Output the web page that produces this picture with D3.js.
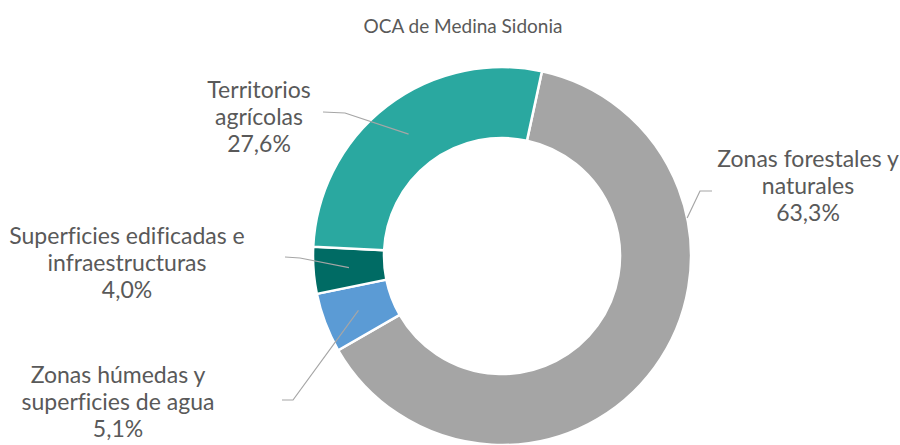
<!DOCTYPE html>
<html>
<head>
<meta charset="utf-8">
<script src="https://cdn.jsdelivr.net/npm/d3@7"></script>
<style>
  body { margin: 0; background: #fff; }
  text { font-family: Lato, "Open Sans", sans-serif; fill: #595959;
         font-variant-ligatures: none; font-feature-settings: "liga" 0; }
</style>
</head>
<body>
<div id="chart"></div>
<script>
// data, in drawing order (clockwise from the first slice)
var categories = ['Zonas forestales y naturales', 'Zonas húmedas y superficies de agua',
                  'Superficies edificadas e infraestructuras', 'Territorios agrícolas'];
var values = [63.3, 5.1, 4.0, 27.6];
var labelLines = [['Zonas forestales y', 'naturales'],
                  ['Zonas húmedas y', 'superficies de agua'],
                  ['Superficies edificadas e', 'infraestructuras'],
                  ['Territorios', 'agrícolas']];
var colors = ['#a5a5a5', '#5b9bd5', '#006b64', '#2aa8a0'];
var title = 'OCA de Medina Sidonia';

var width = 900, height = 445;
var cx = 502, cy = 256,
    outerR = 189, innerR = 118,
    firstAngle = 12.2 * Math.PI / 180;

// label layout: text centre, first baseline, leader start / elbow, clip at outer edge
var labelPos = [
  {x: 808, y: 167, lx: 712, ly: 191, ex: 700, ey: 191, clip: true},
  {x: 118, y: 383, lx: 282, ly: 400, ex: 293, ey: 400, clip: false},
  {x: 127, y: 244, lx: 285, ly: 257, ex: 300, ey: 258, clip: false},
  {x: 259, y: 98,  lx: 323, ly: 112, ex: 345, ey: 113, clip: false}
];
var lineH = 27;

var svg = d3.select('#chart').append('svg')
  .attr('width', width)
  .attr('height', height);

svg.append('text')
  .attr('x', 463)
  .attr('y', 33)
  .attr('text-anchor', 'middle')
  .style('font-size', '19px')
  .text(title);

var pie = d3.pie()
  .sort(null)
  .value(function(d) { return d; })
  .startAngle(firstAngle)
  .endAngle(firstAngle + 2 * Math.PI);

var arc = d3.arc()
  .innerRadius(innerR)
  .outerRadius(outerR);

var arcs = pie(values);

var g = svg.append('g')
  .attr('transform', 'translate(' + cx + ',' + cy + ')');

g.selectAll('path.slice')
  .data(arcs)
  .enter().append('path')
    .attr('class', 'slice')
    .attr('d', arc)
    .attr('fill', function(d, i) { return colors[i]; })
    .attr('stroke', '#fff')
    .attr('stroke-width', 2.5);

// leader lines + labels
var fmt = function(v) { return d3.format('.1f')(v).replace('.', ',') + '%'; };

arcs.forEach(function(d, i) {
  var p = labelPos[i];
  var c = arc.centroid(d);
  var end = [cx + c[0], cy + c[1]];
  if (p.clip) {
    // stop where the line toward the centroid meets the outer edge
    var dx = end[0] - p.ex, dy = end[1] - p.ey;
    var ox = p.ex - cx, oy = p.ey - cy;
    var a = dx * dx + dy * dy, b = 2 * (ox * dx + oy * dy), cc = ox * ox + oy * oy - outerR * outerR;
    var t = (-b - Math.sqrt(b * b - 4 * a * cc)) / (2 * a);
    end = [p.ex + t * dx, p.ey + t * dy];
  }
  svg.append('path')
    .attr('d', d3.line()([[p.lx, p.ly], [p.ex, p.ey], end]))
    .attr('fill', 'none')
    .attr('stroke', '#a6a6a6')
    .attr('stroke-width', 1.2);

  var txt = svg.append('text')
    .attr('text-anchor', 'middle')
    .style('font-size', '23px');
  labelLines[i].concat([fmt(values[i])]).forEach(function(s, k) {
    txt.append('tspan')
      .attr('x', p.x)
      .attr('y', p.y + k * lineH)
      .text(s);
  });
});
</script>
</body>
</html>
